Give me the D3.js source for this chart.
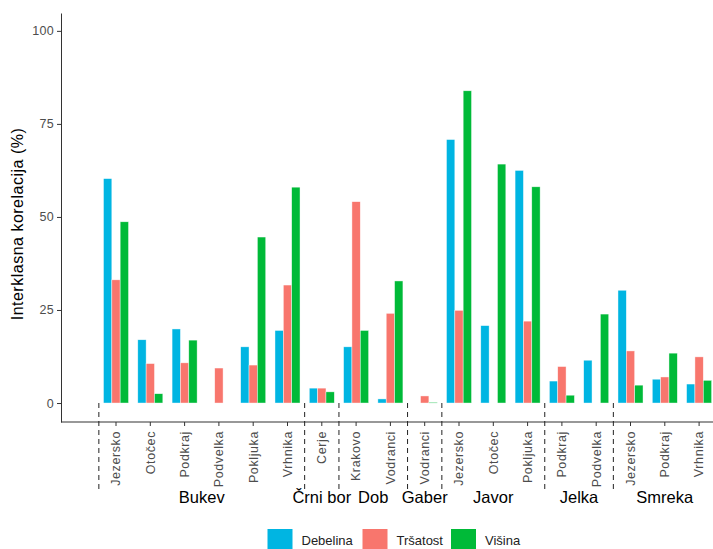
<!DOCTYPE html>
<html>
    <head>
        <meta charset="UTF-8">
        <script src="https://d3js.org/d3.v7.min.js"></script>

        <style>
            body {
                margin: 0;
                font-family: "Liberation Sans", Arial, Helvetica, sans-serif;
                background: white;
            }

            .tick text {
                fill: #4d4d4d;
                font-size: 12.5px;
            }

            .tick line,
            .domain {
                stroke: #333333;
            }

            .bar {
                stroke: white;
                stroke-width: 0.6;
                stroke-opacity: 0.7;
            }

            .sep {
                stroke: #222;
                stroke-width: 1;
                stroke-dasharray: 5, 4;
            }
        </style>
    </head>
    <body>
        <svg></svg>

        <script>

            // data
            const groups = ["Bukev", "Črni bor", "Dob", "Gaber", "Javor", "Jelka", "Smreka"];
            const sites = ["Jezersko", "Otočec", "Podkraj", "Podvelka", "Pokljuka", "Vrhnika",
                           "Cerje",
                           "Krakovo", "Vodranci",
                           "Vodranci",
                           "Jezersko", "Otočec", "Pokljuka",
                           "Podkraj", "Podvelka",
                           "Jezersko", "Podkraj", "Vrhnika"];
            const siteGroup = ["Bukev", "Bukev", "Bukev", "Bukev", "Bukev", "Bukev",
                               "Črni bor",
                               "Dob", "Dob",
                               "Gaber",
                               "Javor", "Javor", "Javor",
                               "Jelka", "Jelka",
                               "Smreka", "Smreka", "Smreka"];

            const seriesNames = ["Debelina", "Tršatost", "Višina"];
            const debelina = [60.3, 17.0, 19.9, null, 15.1, 19.5, 4.0, 15.1, 1.1, null, 70.8, 20.8, 62.5, 5.9, 11.5, 30.3, 6.4, 5.1];
            const trsatost = [33.1, 10.6, 10.8, 9.4, 10.2, 31.7, 4.0, 54.1, 24.1, 1.9, 24.9, null, 22.0, 9.8, null, 14.0, 7.0, 12.4];
            const visina   = [48.7, 2.5, 16.9, null, 44.6, 58.0, 3.0, 19.5, 32.8, 0.2, 83.9, 64.2, 58.1, 2.1, 23.9, 4.8, 13.4, 6.1];
            const yTicks = [0, 25, 50, 75, 100];

            const colors = ["#00B5E2", "#F8766D", "#00BA38"];

            function drawGraph () {
                const width = 713, height = 549;

                const svg = d3.select("svg")
                    .attr("width", width)
                    .attr("height", height);

                const idx = d3.range(sites.length);

                const x = d3.scaleBand()
                    .domain(idx)
                    .range([98.85, 98.85 + 34.3 * sites.length]);

                const xInner = d3.scaleBand()
                    .domain(seriesNames)
                    .range([x.bandwidth() * 0.135, x.bandwidth() * 0.865]);

                const y = d3.scaleLinear()
                    .domain([-5.1, 104.8])
                    .range([422, 13]);

                const series = [debelina, trsatost, visina];
                const rows = [];
                series.forEach((vals, s) => {
                    vals.forEach((v, i) => {
                        if (v !== null) rows.push({ i: i, s: s, v: v });
                    });
                });

                // bars
                svg.append("g")
                    .selectAll("rect")
                    .data(rows)
                    .join("rect")
                        .attr("class", "bar")
                        .attr("x", d => x(d.i) + xInner(seriesNames[d.s]))
                        .attr("width", xInner.bandwidth())
                        .attr("y", d => y(d.v))
                        .attr("height", d => Math.max(0.8, y(0) - y(d.v)))
                        .attr("fill", d => colors[d.s]);

                // y axis
                const yAxis = svg.append("g")
                    .attr("transform", "translate(61,0)")
                    .call(d3.axisLeft(y).tickValues(yTicks).tickSize(4).tickSizeOuter(0).tickPadding(3));
                yAxis.selectAll(".tick text")
                    .style("letter-spacing", "0.3px");

                // x axis
                const xAxis = svg.append("g")
                    .attr("transform", "translate(0,422)")
                    .call(d3.axisBottom(x).tickFormat(i => sites[i]).tickSize(4).tickSizeOuter(0));
                xAxis.select(".domain").remove();
                xAxis.selectAll(".tick text")
                    .attr("transform", "rotate(-90)")
                    .attr("text-anchor", "end")
                    .attr("x", -9)
                    .attr("y", 0)
                    .attr("dy", "0.35em")
                    .style("letter-spacing", "0.6px");

                svg.append("line")
                    .attr("x1", 61).attr("x2", 713)
                    .attr("y1", 422).attr("y2", 422)
                    .attr("stroke", "#333")
                    .attr("stroke-width", 1.2);

                // group separators and labels
                groups.forEach((g, k) => {
                    const members = idx.filter(i => siteGroup[i] === g);
                    const first = members[0];
                    svg.append("line")
                        .attr("class", "sep")
                        .attr("x1", x(first)).attr("x2", x(first))
                        .attr("y1", 403).attr("y2", 491);
                    const cx = d3.mean(members, i => x(i) + x.bandwidth() / 2);
                    svg.append("text")
                        .attr("x", cx)
                        .attr("y", 503)
                        .attr("text-anchor", "middle")
                        .style("font-size", "16.5px")
                        .attr("fill", "black")
                        .text(g);
                });

                // axis title
                svg.append("text")
                    .attr("transform", "translate(23,224) rotate(-90)")
                    .attr("text-anchor", "middle")
                    .style("font-size", "16px")
                    .style("letter-spacing", "0.5px")
                    .text("Interklasna korelacija (%)");

                // legend
                const keyX = [267.5, 362.5, 451];
                const legend = svg.append("g");
                seriesNames.forEach((n, s) => {
                    legend.append("rect")
                        .attr("x", keyX[s]).attr("y", 529)
                        .attr("width", 25).attr("height", 21)
                        .attr("fill", colors[s]);
                    legend.append("text")
                        .attr("x", keyX[s] + 34)
                        .attr("y", 544.5)
                        .style("font-size", "13px")
                        .attr("fill", "#222")
                        .text(n);
                });
            }

            drawGraph();

        </script>
    </body>
</html>
